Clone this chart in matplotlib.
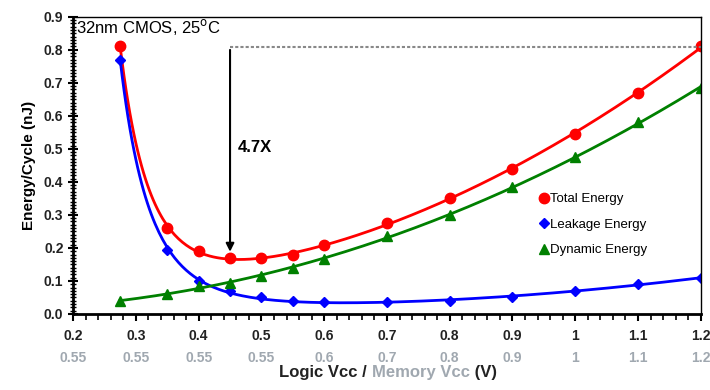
import numpy as np
import matplotlib.pyplot as plt
from matplotlib.ticker import MultipleLocator, FormatStrFormatter

plt.rcParams['font.family'] = ['Liberation Sans', 'DejaVu Sans']

# data
logic_vcc = [0.275, 0.35, 0.4, 0.45, 0.5, 0.55, 0.6, 0.7, 0.8, 0.9, 1.0, 1.1, 1.2]
total_energy = [0.81, 0.26, 0.19, 0.17, 0.17, 0.18, 0.21, 0.275, 0.35, 0.44, 0.545, 0.67, 0.81]
leakage_energy = [0.77, 0.195, 0.10, 0.07, 0.05, 0.04, 0.035, 0.035, 0.04, 0.05, 0.07, 0.09, 0.11]
dynamic_energy = [0.04, 0.06, 0.085, 0.095, 0.115, 0.14, 0.165, 0.235, 0.30, 0.385, 0.475, 0.58, 0.685]

logic_ticks = [0.2, 0.3, 0.4, 0.5, 0.6, 0.7, 0.8, 0.9, 1.0, 1.1, 1.2]
logic_labels = ['0.2', '0.3', '0.4', '0.5', '0.6', '0.7', '0.8', '0.9', '1', '1.1', '1.2']
memory_labels = ['0.55', '0.55', '0.55', '0.55', '0.6', '0.7', '0.8', '0.9', '1', '1.1', '1.2']

series = [
    ('Total Energy', total_energy, 'red', 'o', 7.5),
    ('Leakage Energy', leakage_energy, 'blue', 'D', 5.5),
    ('Dynamic Energy', dynamic_energy, 'green', '^', 7),
]

POW = 6  # steepness of the low-voltage trend term


def basis(x):
    x = np.asarray(x, dtype=float)
    return np.column_stack([np.ones_like(x), x, x**2, (0.275 / x)**POW])


def trend(x, y, xs):
    coef, *_ = np.linalg.lstsq(basis(x), np.asarray(y), rcond=None)
    return basis(xs) @ coef


fig = plt.figure(figsize=(7.1, 3.9), dpi=100)
ax = fig.add_axes([0.103, 0.195, 0.884, 0.762])

xs = np.linspace(logic_vcc[0], logic_vcc[-1], 300)
for name, vals, col, mk, ms in series:
    ax.plot(xs, trend(logic_vcc, vals, xs), color=col, lw=2)
    ax.plot(logic_vcc, vals, linestyle='none', marker=mk, color=col, ms=ms, label=name)

ax.set_xlim(0.2, 1.2)
ax.set_ylim(0, 0.9)
ax.set_xticks(logic_ticks)
ax.set_xticklabels(logic_labels)
ax.xaxis.set_minor_locator(MultipleLocator(0.02))
ax.yaxis.set_major_locator(MultipleLocator(0.1))
ax.yaxis.set_minor_locator(MultipleLocator(0.01))
ax.yaxis.set_major_formatter(FormatStrFormatter('%.1f'))
ax.tick_params(axis='x', which='major', direction='out', length=5, width=1.5, pad=6)
ax.tick_params(axis='x', which='minor', direction='out', length=4, width=1.2)
ax.tick_params(axis='y', which='major', direction='inout', length=7, width=1.5)
ax.tick_params(axis='y', which='minor', direction='inout', length=4, width=1)
ax.tick_params(labelsize=10)
for lab in ax.get_xticklabels() + ax.get_yticklabels():
    lab.set_fontweight('bold')
    lab.set_color('#222222')
for s in ['left', 'bottom']:
    ax.spines[s].set_linewidth(2)
for s in ['top', 'right']:
    ax.spines[s].set_linewidth(1)

# memory Vcc second row of tick labels
for xv, lab in zip(logic_ticks, memory_labels):
    ax.text(xv, -0.125, lab, transform=ax.get_xaxis_transform(), ha='center', va='top',
            fontsize=10, color='#a0a8b0', fontweight='bold')

ax.set_ylabel('Energy/Cycle (nJ)', fontsize=11, fontweight='bold', labelpad=6)

# two-colour x label, pieces laid out one after another
pieces = [('Logic Vcc / ', '#222222'), ('Memory Vcc', '#a0a8b0'), (' (V)', '#222222')]
fig.canvas.draw()
renderer = fig.canvas.get_renderer()
texts = [fig.text(0, 0.025, s, fontsize=12, fontweight='bold', color=c, va='bottom')
         for s, c in pieces]
widths = [t.get_window_extent(renderer).width for t in texts]
x0 = 388 - sum(widths) / 2
for t, w in zip(texts, widths):
    t.set_x(x0 / 710)
    x0 += w

# annotations
ax.text(0.205, 0.84, '32nm CMOS, 25$^{\\mathrm{o}}$C', fontsize=12, va='bottom', ha='left')
ax.plot([0.45, 1.2], [0.808, 0.808], color='#888888', lw=1.5, ls=(0, (1.5, 1)))
ax.annotate('', xy=(0.45, 0.18), xytext=(0.45, 0.808),
            arrowprops=dict(arrowstyle='-|>', color='black', lw=1.5, mutation_scale=12))
ax.text(0.462, 0.505, '4.7X', fontsize=12, fontweight='bold', va='center')

ax.legend(loc='center left', bbox_to_anchor=(0.735, 0.30), frameon=False, fontsize=9.5,
          handlelength=0.5, handletextpad=0.15, labelspacing=1.0, borderpad=0)

fig.savefig('out.png', dpi=100)
